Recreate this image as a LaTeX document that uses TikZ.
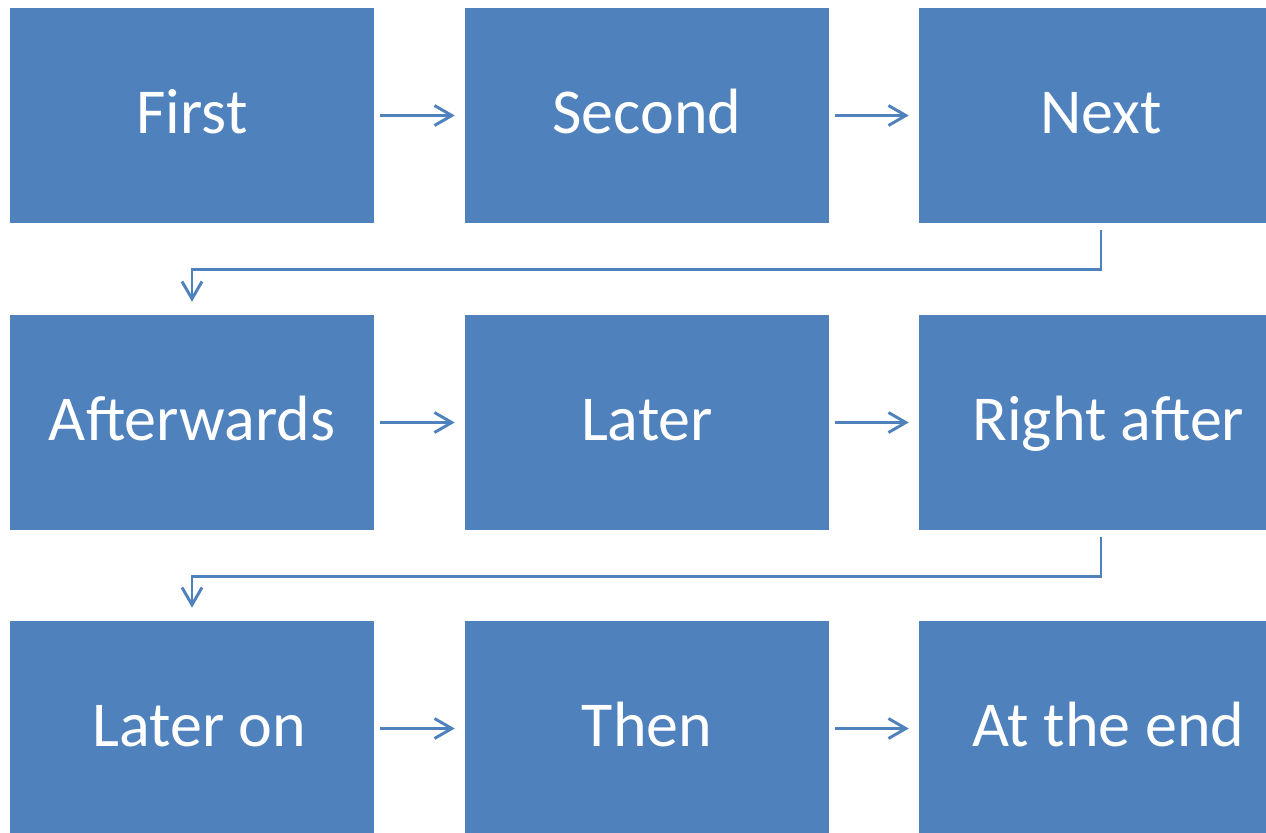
\documentclass[tikz,border=0pt]{standalone}
\usepackage{fontspec}
\setmainfont{Carlito}
\usetikzlibrary{arrows.meta}
\definecolor{boxblue}{HTML}{4F81BD}
\begin{document}
\begin{tikzpicture}[x=0.75pt, y=-0.75pt,
		stepbox/.style={fill=boxblue, text=white, inner sep=0pt, minimum width=273pt, minimum height=161.25pt, font=\fontsize{48}{58}\selectfont, text height=27pt, text depth=0pt},
		flow/.style={draw=boxblue, line width=2.2pt, -{Straight Barb[length=13pt, width=15pt]}}]
		\useasboundingbox (0,0) rectangle (1266,832);
		\clip (0,0) rectangle (1266,832);
		
		%boxes, row by row
		\foreach \name/\txt/\x/\y in {first/First/192/115.5, second/Second/647/115.5, next/Next/1101/115.5,
			afterwards/Afterwards/192/422.5, later/Later/647/422.5, rightafter/{\hspace*{.23em}Right after}/1101/422.5,
			lateron/{\hspace*{.23em}Later on}/192/728.5, then/Then/647/728.5, theend/{\hspace*{.23em}At the end}/1101/728.5}{
			\node[stepbox] (\name) at (\x, \y){\txt};
		}
		
		%straight arrows
		\foreach \a/\b in {first/second, second/next, afterwards/later, later/rightafter, lateron/then, then/theend}{
			\draw[flow, shorten <=4.5pt, shorten >=7.5pt] (\a) -- (\b);
		}
		
		%row changes
		\draw[flow, shorten <=5.25pt, shorten >=9.75pt] (next.south) -- ++(0,46) -| (afterwards.north);
		\draw[flow, shorten <=5.25pt, shorten >=9.75pt] (rightafter.south) -- ++(0,46) -| (lateron.north);
\end{tikzpicture}
\end{document}
